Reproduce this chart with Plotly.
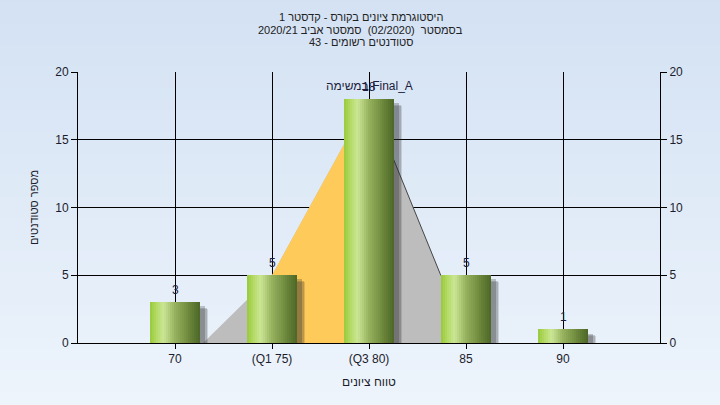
import plotly.graph_objects as go

# ---- data ----
categories = ["70", "(Q1 75)", "(Q3 80)", "85", "90"]
counts = [3, 5, 18, 5, 1]
q1_index, q3_index = 1, 2
curve_x = [0.29, 1, 2, 2.74, 3.0]
curve_y = [0, 5, 18, 5, 0]

title_lines = [
    "היסטוגרמת ציונים בקורס - קדסטר 1",
    "בסמסטר  (02/2020)  סמסטר אביב 2020/21",
    "סטודנטים רשומים - 43",
]
series_label = "במשימה Final_A"
x_title = "טווח ציונים"
y_title = "מספר סטודנטים"

x_pos = list(range(len(categories)))

FONT = "Liberation Sans, Arial, sans-serif"
TXT = "#1c1c2c"
fig = go.Figure()

def lerp(c1, c2, t):
    return tuple(round(a + (b - a) * t) for a, b in zip(c1, c2))

# background gradient (paper)
top_c, bot_c = (211, 225, 243), (238, 245, 252)
n_bands = 40
shapes = []
for i in range(n_bands):
    t = i / (n_bands - 1)
    c = lerp(top_c, bot_c, t)
    shapes.append(dict(type="rect", xref="paper", yref="paper",
                       x0=-0.2, x1=1.2,
                       y1=1.3 - i * (1.6 / n_bands), y0=1.3 - (i + 1) * (1.6 / n_bands) - 0.01,
                       fillcolor="rgb(%d,%d,%d)" % c, line=dict(width=0), layer="below"))

# ---- base axes: area shapes ----
fig.add_trace(go.Scatter(x=curve_x, y=curve_y, mode="lines", fill="tozeroy",
                         fillcolor="#bdbdbd", line=dict(width=0), hoverinfo="skip",
                         showlegend=False))
fig.add_trace(go.Scatter(x=x_pos[q1_index:q3_index + 1], y=counts[q1_index:q3_index + 1],
                         mode="lines", fill="tozeroy", fillcolor="#fecb5a",
                         line=dict(width=0), hoverinfo="skip", showlegend=False))
fig.add_trace(go.Scatter(x=curve_x[2:4], y=curve_y[2:4], mode="lines",
                         line=dict(color="#454545", width=1), hoverinfo="skip",
                         showlegend=False))

# ---- overlay axes: bars ----
bar_w = 0.525
for dx, dy, alpha in [(0.08, 0.5, 0.15), (0.065, 0.4, 0.2), (0.05, 0.3, 0.25)]:
    fig.add_trace(go.Bar(x=x_pos, y=[c - dy + 0.3 for c in counts], base=[-0.3] * len(counts),
                         width=bar_w, offset=-bar_w / 2 + dx, xaxis="x2", yaxis="y2",
                         marker=dict(color="rgba(40,40,40,%g)" % alpha, line=dict(width=0)),
                         hoverinfo="skip", showlegend=False))

stops = [(0.0, (152, 202, 58)), (0.12, (178, 217, 98)), (0.27, (203, 230, 148)),
         (0.5, (150, 178, 95)), (0.75, (112, 140, 62)), (1.0, (76, 102, 38))]

def grad(t):
    for (t0, c0), (t1, c1) in zip(stops, stops[1:]):
        if t <= t1:
            return lerp(c0, c1, (t - t0) / (t1 - t0))
    return stops[-1][1]

# gradient bars: each slice runs from its start to the bar's right edge
n_sl = 25
sw = bar_w / n_sl
for i in range(n_sl):
    c = grad((i + 0.5) / n_sl)
    fig.add_trace(go.Bar(x=x_pos, y=counts, width=bar_w - i * sw, offset=-bar_w / 2 + i * sw,
                         xaxis="x2", yaxis="y2",
                         marker=dict(color="rgb(%d,%d,%d)" % c, line=dict(width=0)),
                         hoverinfo="skip", showlegend=False))

annotations = []
for xv, c in zip(x_pos, counts):
    annotations.append(dict(x=xv, y=c, xref="x2", yref="y2", yshift=12, text=str(c),
                            showarrow=False, font=dict(family=FONT, size=12, color="#1c1c3c"),
                            xanchor="center", yanchor="middle"))
annotations.append(dict(x=x_pos[q3_index], y=counts[q3_index], xref="x2", yref="y2", yshift=13,
                        text=series_label, showarrow=False,
                        font=dict(family=FONT, size=12, color="#1c1c3c"),
                        xanchor="center", yanchor="middle"))
# title lines (pixel rows 17, 30, 42 -> paper y)
for line, py in zip(title_lines, [17, 30, 42]):
    annotations.append(dict(x=0.486, y=1 + (72 - py) / 271, xref="paper", yref="paper",
                            text=line, showarrow=False, xanchor="center", yanchor="middle",
                            font=dict(family=FONT, size=11, color="#222222")))

fig.update_layout(
    width=720, height=405,
    margin=dict(l=78, r=60, t=72, b=62),
    paper_bgcolor="#e2ebf7",
    plot_bgcolor="#b4b4b4",
    barmode="overlay",
    bargap=0,
    shapes=shapes,
    annotations=annotations,
    xaxis=dict(range=[-1, 5], tickvals=x_pos, ticktext=categories,
               showgrid=True, gridcolor="black", gridwidth=1, zeroline=False,
               showline=True, linecolor="black", linewidth=1,
               ticks="outside", ticklen=5, tickcolor="black",
               tickfont=dict(family=FONT, size=12, color=TXT),
               title=dict(text=x_title, font=dict(family=FONT, size=12, color=TXT), standoff=12)),
    yaxis=dict(range=[0, 20], dtick=5, showgrid=True, gridcolor="black", gridwidth=1,
               zeroline=False, showline=True, linecolor="black", linewidth=1,
               ticks="outside", ticklen=6, tickcolor="black",
               tickfont=dict(family=FONT, size=12, color=TXT),
               title=dict(text=y_title, font=dict(family=FONT, size=11, color=TXT), standoff=14)),
    xaxis2=dict(range=[-1, 5], overlaying="x", visible=False, showgrid=False, zeroline=False),
    yaxis2=dict(range=[0, 20], dtick=5, overlaying="y", side="right", showgrid=False,
                zeroline=False, showline=True, linecolor="black", linewidth=1,
                ticks="outside", ticklen=6, tickcolor="black",
                tickfont=dict(family=FONT, size=12, color=TXT)),
)

fig.write_html("out.html", config={"displayModeBar": False},
               post_script="document.body.style.margin='0';")
